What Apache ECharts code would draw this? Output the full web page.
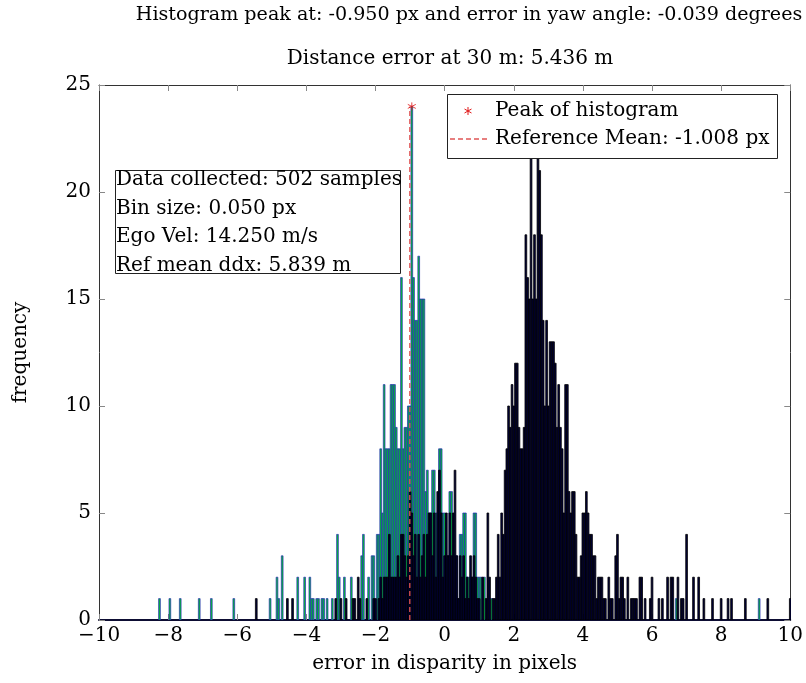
<!DOCTYPE html>
<html>
<head>
<meta charset="utf-8">
<script src="https://cdn.jsdelivr.net/npm/echarts@6/dist/echarts.min.js"></script>
<style>
  html, body { margin: 0; padding: 0; background: #ffffff; }
  #chart { width: 806px; height: 683px; }
</style>
</head>
<body>
<div id="chart"></div>
<script>
// ---- histogram data (bin centre in px, count); bins are 0.05 px wide ----
const binSize = 0.05;

// reference histogram (green bars with blue outline)
const referenceBins = [
  [-8.25,1],[-7.95,1],[-7.65,1],[-7.10,1],[-6.75,1],[-6.10,1],[-5.05,1],[-4.85,2],[-4.80,1],[-4.70,3],
  [-4.25,2],[-4.05,2],[-3.90,2],[-3.85,1],[-3.80,1],[-3.70,1],[-3.65,1],[-3.55,1],[-3.50,1],[-3.40,1],
  [-3.25,1],[-3.10,4],[-3.05,2],[-2.90,2],[-2.70,2],[-2.40,3],[-2.35,4],[-2.20,2],[-2.10,3],[-2.05,3],
  [-1.95,4],[-1.90,4],[-1.85,8],[-1.80,5],[-1.75,11],[-1.70,8],[-1.65,8],[-1.60,8],[-1.55,11],[-1.50,11],
  [-1.45,11],[-1.40,9],[-1.35,8],[-1.30,8],[-1.25,16],[-1.20,8],[-1.15,9],[-1.10,9],[-1.05,10],[-1.00,10],
  [-0.95,24],[-0.90,16],[-0.85,14],[-0.80,14],[-0.75,17],[-0.70,15],[-0.65,15],[-0.60,15],[-0.55,6],[-0.50,7],
  [-0.45,5],[-0.40,5],[-0.35,7],[-0.30,7],[-0.25,5],[-0.20,5],[-0.15,8],[-0.10,8],[-0.05,5],[0.00,5],
  [0.05,3],[0.10,3],[0.15,6],[0.20,6],[0.25,3],[0.30,3],[0.35,3],[0.40,1],[0.45,4],[0.50,4],
  [0.55,5],[0.60,5],[0.65,2],[0.70,2],[0.75,2],[0.80,2],[0.85,5],[0.90,5],[0.95,2],[1.00,2],
  [1.05,2],[1.15,2],[1.35,1],[6.70,1],[9.10,1]
];

// measured histogram (dark navy bars with black outline)
const measuredBins = [
  [-5.45,1],[-4.55,1],[-4.40,1],[-3.15,1],[-3.00,1],[-2.85,1],[-2.65,1],[-2.60,1],[-2.50,2],[-2.45,1],
  [-2.25,1],[-2.05,1],[-2.00,1],[-1.90,1],[-1.85,2],[-1.80,1],[-1.75,2],[-1.70,2],[-1.65,2],[-1.60,4],
  [-1.55,2],[-1.50,2],[-1.45,2],[-1.40,2],[-1.35,3],[-1.30,2],[-1.25,4],[-1.20,4],[-1.15,3],[-1.10,2],
  [-1.05,3],[-1.00,6],[-0.95,5],[-0.90,3],[-0.85,4],[-0.80,2],[-0.75,4],[-0.70,2],[-0.65,3],[-0.60,4],
  [-0.55,2],[-0.50,4],[-0.45,5],[-0.40,5],[-0.35,3],[-0.30,5],[-0.25,2],[-0.20,6],[-0.15,7],[-0.10,5],
  [-0.05,2],[0.00,3],[0.05,5],[0.10,3],[0.15,5],[0.20,3],[0.25,5],[0.30,7],[0.35,3],[0.40,1],
  [0.45,3],[0.50,2],[0.55,3],[0.60,1],[0.65,2],[0.70,1],[0.75,3],[0.80,2],[0.85,3],[0.90,2],
  [0.95,1],[1.00,1],[1.10,2],[1.20,1],[1.25,5],[1.30,2],[1.40,1],[1.45,1],[1.50,2],[1.55,4],
  [1.60,2],[1.65,5],[1.70,4],[1.75,7],[1.80,8],[1.85,10],[1.90,9],[1.95,11],[2.00,10],[2.05,12],
  [2.10,12],[2.15,9],[2.20,8],[2.25,8],[2.30,9],[2.35,18],[2.40,16],[2.45,15],[2.50,23],[2.55,15],
  [2.60,18],[2.65,15],[2.70,22],[2.75,21],[2.80,18],[2.85,14],[2.90,10],[2.95,14],[3.00,10],[3.05,13],
  [3.10,13],[3.15,13],[3.20,12],[3.25,9],[3.30,11],[3.35,9],[3.40,8],[3.45,5],[3.50,11],[3.55,11],
  [3.60,6],[3.65,5],[3.70,6],[3.75,6],[3.80,4],[3.85,2],[3.90,2],[3.95,3],[4.00,5],[4.05,5],
  [4.10,6],[4.15,5],[4.20,4],[4.25,4],[4.30,3],[4.35,3],[4.40,1],[4.45,2],[4.50,2],[4.55,2],
  [4.60,1],[4.65,1],[4.75,2],[4.80,1],[4.85,1],[4.95,3],[5.00,4],[5.05,1],[5.10,2],[5.15,2],
  [5.20,1],[5.30,2],[5.40,1],[5.45,1],[5.50,1],[5.55,1],[5.65,2],[5.70,2],[5.80,1],[5.95,1],
  [6.00,2],[6.20,1],[6.30,1],[6.45,2],[6.55,2],[6.60,2],[6.75,2],[6.85,1],[6.90,1],[7.00,4],
  [7.20,2],[7.35,2],[7.50,1],[7.75,1],[8.00,1],[8.20,1],[8.30,1],[8.70,1],[9.35,1],[10.00,1]
];

// peak marker and reference mean
const peakX = -0.95;
const peakCount = 24;
const refMean = -1.008;

// axis ranges and tick steps
const xRange = [-10, 10];
const xStep = 2;
const yRange = [0, 25];
const yStep = 5;

// texts
const titleLine1 = 'Histogram peak at: -0.950 px and error in yaw angle: -0.039 degrees';
const titleLine2 = 'Distance error at 30 m: 5.436 m';
const xName = 'error in disparity in pixels';
const yName = 'frequency';
const legendPeak = 'Peak of histogram';
const legendMean = 'Reference Mean: -1.008 px';
const infoLines = [
  'Data collected: 502 samples',
  'Bin size: 0.050 px',
  'Ego Vel: 14.250 m/s',
  'Ref mean ddx: 5.839 m'
];

const FONT = '"DejaVu Serif", "Liberation Serif", serif';
const FS = 20;
const fmtNum = v => String(v).replace('-', '\u2212');

function barRenderer(fill, stroke, lw) {
  return function (params, api) {
    const c = api.value(0);
    const n = api.value(1);
    const tl = api.coord([c - binSize / 2, n]);
    const br = api.coord([c + binSize / 2, 0]);
    return {
      type: 'rect',
      shape: { x: tl[0], y: tl[1], width: br[0] - tl[0], height: br[1] - tl[1] },
      style: { fill: fill, stroke: stroke, lineWidth: lw }
    };
  };
}

const chart = echarts.init(document.getElementById('chart'), null, { renderer: 'canvas' });

const textStyle = { fontFamily: FONT, fontSize: FS, color: '#000', fontWeight: 'normal' };
const starColor = '#e01818';
const meanColor = '#e05555';

const option = {
  animation: false,
  backgroundColor: '#ffffff',
  title: [
    { text: titleLine1, left: 464, top: 1, textAlign: 'center',
      textStyle: Object.assign({}, textStyle, { fontSize: 19.1 }) },
    { text: titleLine2, left: 445, top: 44, textAlign: 'center', textStyle: textStyle }
  ],
  grid: { left: 99, right: 14, top: 85, bottom: 63 },
  xAxis: [
    {
      type: 'value', min: xRange[0], max: xRange[1], interval: xStep, position: 'bottom',
      axisLine: { show: true, onZero: false, lineStyle: { color: '#0d0d33', width: 2 } },
      axisTick: { show: true, inside: true, length: 6, lineStyle: { color: '#888' } },
      axisLabel: { margin: 6, formatter: fmtNum, fontFamily: FONT, fontSize: FS, color: '#000' },
      splitLine: { show: false },
      name: xName, nameLocation: 'middle', nameGap: 34,
      nameTextStyle: { fontFamily: FONT, fontSize: FS, color: '#000' }
    },
    {
      type: 'value', min: xRange[0], max: xRange[1], interval: xStep, position: 'top',
      axisLine: { show: true, onZero: false, lineStyle: { color: '#333', width: 1 } },
      axisTick: { show: true, inside: true, length: 6, lineStyle: { color: '#888' } },
      axisLabel: { show: false }, splitLine: { show: false }
    }
  ],
  yAxis: [
    {
      type: 'value', min: yRange[0], max: yRange[1], interval: yStep, position: 'left',
      axisLine: { show: true, onZero: false, lineStyle: { color: '#333', width: 1 } },
      axisTick: { show: true, inside: true, length: 6, lineStyle: { color: '#888' } },
      axisLabel: { margin: 8, formatter: fmtNum, fontFamily: FONT, fontSize: FS, color: '#000' },
      splitLine: { show: false },
      name: yName, nameLocation: 'middle', nameGap: 68, nameRotate: 90,
      nameTextStyle: { fontFamily: FONT, fontSize: FS, color: '#000' }
    },
    {
      type: 'value', min: yRange[0], max: yRange[1], interval: yStep, position: 'right',
      axisLine: { show: true, onZero: false, lineStyle: { color: '#333', width: 1 } },
      axisTick: { show: true, inside: true, length: 6, lineStyle: { color: '#888' } },
      axisLabel: { show: false }, splitLine: { show: false }
    }
  ],
  series: [
    {
      name: 'reference', type: 'custom', xAxisIndex: 0, yAxisIndex: 0, clip: true,
      renderItem: barRenderer('#00c030', '#2a2ab8', 0.7),
      data: referenceBins, z: 2
    },
    {
      name: 'measured', type: 'custom', xAxisIndex: 0, yAxisIndex: 0, clip: true,
      renderItem: barRenderer('#00003a', '#000000', 0.8),
      data: measuredBins, z: 3
    },
    {
      name: legendMean, type: 'line', xAxisIndex: 0, yAxisIndex: 0,
      data: [[refMean, 0], [refMean, peakCount]],
      symbol: 'none', lineStyle: { color: meanColor, width: 1.3, type: [5, 3] }, z: 4
    },
    {
      name: legendPeak, type: 'scatter', xAxisIndex: 0, yAxisIndex: 0,
      data: [[peakX, peakCount]],
      symbol: 'path://M0,-10L0,10M-8.66,-5L8.66,5M-8.66,5L8.66,-5',
      symbolSize: 8,
      itemStyle: { color: starColor, borderColor: starColor, borderWidth: 1 }, z: 5
    }
  ],
  graphic: [
    // legend box
    { type: 'rect', z: 100, shape: { x: 447.5, y: 94.5, width: 330, height: 64 },
      style: { fill: '#fff', stroke: '#222', lineWidth: 1 } },
    { type: 'line', z: 101, shape: { x1: 468, y1: 107, x2: 468, y2: 115 }, style: { stroke: starColor, lineWidth: 1 } },
    { type: 'line', z: 101, shape: { x1: 464.5, y1: 109, x2: 471.5, y2: 113 }, style: { stroke: starColor, lineWidth: 1 } },
    { type: 'line', z: 101, shape: { x1: 464.5, y1: 113, x2: 471.5, y2: 109 }, style: { stroke: starColor, lineWidth: 1 } },
    { type: 'text', z: 101, style: { text: legendPeak, x: 495, y: 111, verticalAlign: 'middle',
      font: FS + 'px ' + FONT, fill: '#000' } },
    { type: 'line', z: 101, shape: { x1: 450, y1: 139, x2: 487, y2: 139 },
      style: { stroke: meanColor, lineWidth: 1.3, lineDash: [5, 3] } },
    { type: 'text', z: 101, style: { text: legendMean, x: 495, y: 139, verticalAlign: 'middle',
      font: FS + 'px ' + FONT, fill: '#000' } },
    // info box
    { type: 'rect', z: 100, shape: { x: 115.5, y: 170.5, width: 285, height: 103 },
      style: { fill: '#fff', stroke: '#222', lineWidth: 1 } },
    { type: 'text', z: 101, style: { text: infoLines[0], x: 116, y: 180, verticalAlign: 'middle', font: FS + 'px ' + FONT, fill: '#000' } },
    { type: 'text', z: 101, style: { text: infoLines[1], x: 116, y: 208.5, verticalAlign: 'middle', font: FS + 'px ' + FONT, fill: '#000' } },
    { type: 'text', z: 101, style: { text: infoLines[2], x: 116, y: 237, verticalAlign: 'middle', font: FS + 'px ' + FONT, fill: '#000' } },
    { type: 'text', z: 101, style: { text: infoLines[3], x: 116, y: 265.5, verticalAlign: 'middle', font: FS + 'px ' + FONT, fill: '#000' } }
  ]
};

chart.setOption(option);
</script>
</body>
</html>
